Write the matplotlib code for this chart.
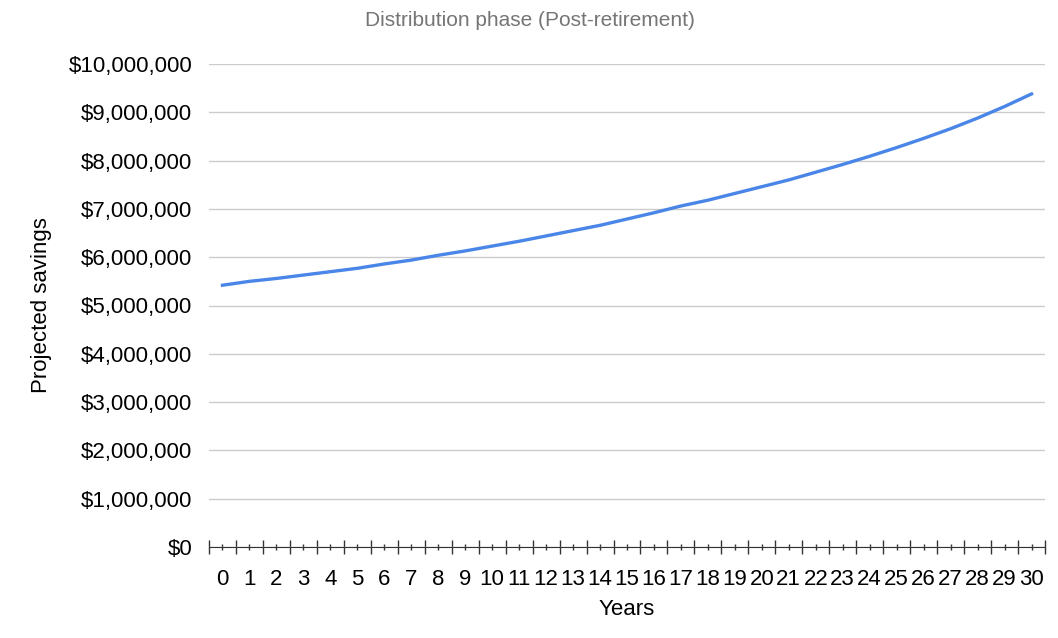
import matplotlib
matplotlib.use("Agg")
import matplotlib.pyplot as plt
from matplotlib.ticker import FuncFormatter, FixedLocator

years = list(range(31))
savings = [5.42, 5.50, 5.56, 5.63, 5.70, 5.77, 5.86, 5.94, 6.04, 6.13, 6.23,
           6.33, 6.44, 6.55, 6.66, 6.79, 6.92, 7.06, 7.18, 7.32, 7.46, 7.60,
           7.76, 7.92, 8.09, 8.27, 8.46, 8.66, 8.88, 9.12, 9.38]
savings = [v * 1e6 for v in savings]

plt.rcParams['font.family'] = ['Liberation Sans', 'DejaVu Sans']
fig = plt.figure(figsize=(10.58, 6.38), dpi=100)
ax = fig.add_axes([209/1058, 1-547/638, 836/1058, 483/638])
ax.plot(years, savings, color='#4a86e8', linewidth=2.4)
ax.set_xlim(-0.5, 30.5)
ax.set_ylim(0, 10e6)
ax.set_yticks([i*1e6 for i in range(11)])
ax.yaxis.set_major_formatter(FuncFormatter(lambda v, p: f"${v:,.0f}"))
ax.set_xticks(years)
ax.set_xticklabels([str(y) for y in years])
ax.tick_params(axis='x', length=4, width=1, color='#333333', direction='inout', pad=14, labelsize=16)
ax.xaxis.set_minor_locator(FixedLocator([y - 0.5 for y in range(32)]))
ax.tick_params(axis='x', which='minor', length=10, width=1, color='#333333', direction='inout')
ax.tick_params(axis='y', length=0, labelsize=16, pad=12)
ax.grid(axis='y', color='#cccccc', linewidth=1)
for s in ['top', 'right', 'left']:
    ax.spines[s].set_visible(False)
ax.spines['bottom'].set_color('#333333')
ax.set_axisbelow(True)
ax.set_xlabel('Years', fontsize=16, labelpad=6)
ax.set_ylabel('Projected savings', fontsize=16, labelpad=12)
fig.text(530/1058, 1-20/638, 'Distribution phase (Post-retirement)', ha='center', va='center',
         fontsize=15, color='#757575')
fig.savefig('out.png', dpi=100)
